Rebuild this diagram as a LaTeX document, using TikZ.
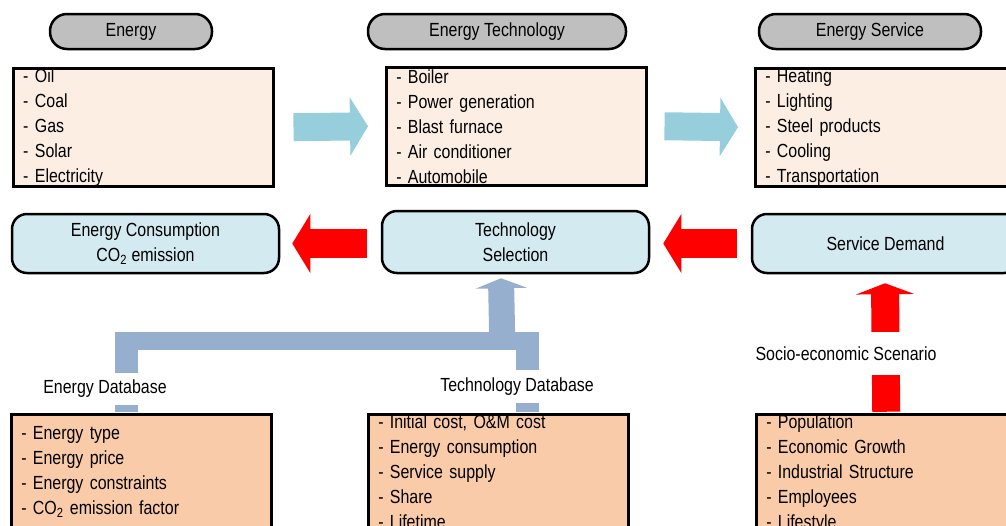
\documentclass[tikz,border=0pt]{standalone}
\usepackage{fontspec}
\setmainfont[FakeStretch=0.84]{Liberation Sans}
\usetikzlibrary{calc,arrows.meta}
\definecolor{pillgray}{HTML}{BFBFBF}
\definecolor{itemfill}{HTML}{FDEEE3}
\definecolor{stagefill}{HTML}{D3EAF0}
\definecolor{datafill}{HTML}{F9CBA8}
\definecolor{flowblue}{HTML}{97CEDC}
\definecolor{dbblue}{HTML}{97AFCE}
\tikzstyle{pill} = [draw, line width = 2.5pt, fill = pillgray, rounded corners = 17pt, minimum height = 35pt, inner sep = 0pt]
\tikzstyle{listbox} = [draw, line width = 2.5pt, fill = itemfill, minimum height = 118pt, text width = 240pt, inner xsep = 10pt, inner ysep = 0pt, align = left, anchor = north west]
\tikzstyle{stagebox} = [draw, line width = 2.5pt, fill = stagefill, rounded corners = 15pt, minimum width = 267pt, align = center, inner sep = 0pt]
\tikzstyle{databox} = [draw, line width = 2.5pt, fill = datafill, text width = 240pt, inner xsep = 10pt, align = left, anchor = north west]
\tikzstyle{flow} = [flowblue, line width = 28pt, -{Triangle[width = 58pt, length = 18pt]}]
\tikzstyle{demand} = [red, line width = 29pt, -{Triangle[width = 58pt, length = 18pt]}]
\tikzstyle{dbline} = [dbblue, line width = 23pt]
\tikzstyle{gap} = [fill = white, inner sep = 0pt]

\begin{document}
\begin{tikzpicture}[x = 1pt, y = -1pt, font = \fontsize{19}{25}\selectfont]
    \useasboundingbox (0,0) rectangle (1006,525);
    \clip (0,0) rectangle (1006,525);

    \node (energy) at (131,31.5) [pill, minimum width = 162pt] {Energy};
    \node (entech) at (497,31.5) [pill, minimum width = 258pt] {Energy Technology};
    \node (enserv) at (870,31.5) [pill, minimum width = 222pt] {Energy Service};

    \node (enlist) at (12,67) [listbox] {- Oil\\- Coal\\- Gas\\- Solar\\- Electricity};
    \node (techlist) at (385,66) [listbox] {- Boiler\\- Power generation\\- Blast furnace\\- Air conditioner\\- Automobile};
    \node (servlist) at (754,67) [listbox] {- Heating\\- Lighting\\- Steel products\\- Cooling\\- Transportation};

    \node (encons) at (145.5,243.5) [stagebox, minimum height = 59pt] {Energy Consumption\\CO\textsubscript{2} emission};
    \node (techsel) at (515.5,242) [stagebox, minimum height = 62pt] {Technology\\Selection};
    \node (servdem) at (885.5,243.5) [stagebox, minimum height = 59pt] {Service Demand};

    \node (endata) at (10,413) [databox, inner ysep = 12pt] {- Energy type\\- Energy price\\- Energy constraints\\- CO\textsubscript{2} emission factor};
    \node (techdata) at (367,413) [databox, inner ysep = 0pt] {- Initial cost, O\&M cost\\- Energy consumption\\- Service supply\\- Share\\- Lifetime};
    \node (socdata) at (755,413) [databox, inner ysep = 0pt] {- Population\\- Economic Growth\\- Industrial Structure\\- Employees\\- Lifestyle};

    \draw [flow] ($(enlist.east) + (19,0)$) -- ($(techlist.west) + (-17,0)$);
    \draw [flow] ($(techlist.east) + (17,0)$) -- ($(servlist.west) + (-16,0)$);
    \draw [demand] ($(techsel.west) + (-14,1.5)$) -- ($(encons.east) + (12,0)$);
    \draw [demand] ($(servdem.west) + (-14,0)$) -- ($(techsel.east) + (13,1.5)$);
    \draw [demand, line width = 28pt, -{Triangle[width = 58pt, length = 11pt]}] ($(socdata.north) + (0,-1.25)$) -- ($(servdem.south) + (-0.5,9)$);
    \node (scenario) at (846,353.5) [gap, minimum height = 43pt] {Socio-economic Scenario};

    \draw [dbline] ($(endata.north) + (-14.5,-1.25)$) -- ($(endata.north) + (-14.5,-72)$);
    \draw [dbline] ($(techdata.north) + (29.5,-1.25)$) -- ($(techdata.north) + (29.5,-81)$);
    \draw [dbline, line width = 18pt] ($(endata.north) + (-26,-72)$) -- ($(techdata.north) + (41,-72)$);
    \draw [dbline, line width = 26pt, -{Triangle[width = 51pt, length = 10pt]}] ($(techdata.north) + (4,-72)$) -- ($(techsel.south) + (-14.5,4)$);
    \node (endblabel) at (105,389) [gap, minimum height = 32pt] {Energy Database};
    \node (techdblabel) at (517,386.5) [gap, minimum height = 33pt] {Technology Database};
\end{tikzpicture}
\end{document}
